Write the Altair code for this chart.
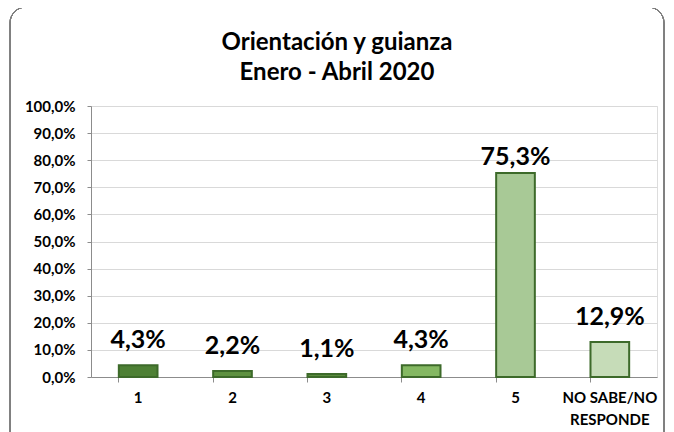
import altair as alt
import pandas as pd

categories = ["1", "2", "3", "4", "5", "NO SABE/NO RESPONDE"]
values = [4.3, 2.2, 1.1, 4.3, 75.3, 12.9]
colors = ["#4e8035", "#5e9140", "#5a8c3d", "#84b862", "#a8c996", "#c6dcb8"]
labels = ["4,3%", "2,2%", "1,1%", "4,3%", "75,3%", "12,9%"]
y_ticks = [0, 10, 20, 30, 40, 50, 60, 70, 80, 90, 100]

df = pd.DataFrame({"cat": categories, "val": values, "color": colors, "label": labels})

FONT = "Lato"

x = alt.X(
    "cat:N",
    sort=categories,
    scale=alt.Scale(paddingInner=0.59, paddingOuter=0.295),
    axis=alt.Axis(
        title=None,
        labelAngle=0,
        labelFont=FONT,
        labelFontWeight="bold",
        labelFontSize=15,
        labelColor="#000000",
        labelPadding=8,
        labelLineHeight=22,
        labelExpr="datum.label == 'NO SABE/NO RESPONDE' ? ['NO SABE/NO', 'RESPONDE'] : datum.label",
        labelOverlap=False,
        bandPosition=0,
        tickSize=5,
        tickColor="#8c8c8c",
        domainColor="#8c8c8c",
        grid=False,
    ),
)

y = alt.Y(
    "val:Q",
    scale=alt.Scale(domain=[0, 100], nice=False),
    axis=alt.Axis(
        title=None,
        values=y_ticks,
        tickCount=20,
        labelExpr="replace(format(datum.value, '.1f'), '.', ',') + '%'",
        labelFont=FONT,
        labelFontWeight="bold",
        labelFontSize=15,
        labelColor="#000000",
        labelPadding=12,
        labelOverlap=False,
        labelBound=False,
        tickSize=4,
        tickColor="#8c8c8c",
        domainColor="#8c8c8c",
        gridColor="#d9d9d9",
        gridWidth=1,
    ),
)

frame = alt.Chart(df).mark_rect(
    fill=None, fillOpacity=0, stroke="#7f7f7f", strokeWidth=1, cornerRadius=16
).encode(
    x=alt.value(-81), x2=alt.value(573), y=alt.value(-99), y2=alt.value(345)
)

bars = alt.Chart(df).mark_bar(stroke="#3d6a2a", strokeWidth=2).encode(
    x=x,
    y=y,
    color=alt.Color("color:N", scale=None),
)

text_style = dict(font=FONT, fontWeight="bold", fontSize=25, baseline="bottom", color="#000000")

text_low = alt.Chart(df).transform_filter("datum.val < 50").mark_text(
    dy=-12, **text_style
).encode(x=x, y=y, text="label:N")

text_high = alt.Chart(df).transform_filter("datum.val >= 50").mark_text(
    dy=-3, **text_style
).encode(x=x, y=y, text="label:N")

chart = (
    alt.layer(frame, bars, text_low, text_high)
    .properties(
        width=566,
        height=271,
        autosize=alt.AutoSizeParams(type="none"),
        padding={"left": 83, "top": 98, "right": 9, "bottom": 55},
        title=alt.TitleParams(
            text=["Orientación y guianza", "Enero - Abril 2020"],
            font=FONT,
            fontSize=24,
            fontWeight="bold",
            color="#000000",
            anchor="middle",
            frame="group",
            dx=-37,
            offset=-78,
            lineHeight=30,
        ),
    )
    .configure_view(stroke="#8c8c8c", strokeWidth=1)
    .configure(background="white")
)

chart.save("out.html", embed_options={"renderer": "svg", "actions": False})
